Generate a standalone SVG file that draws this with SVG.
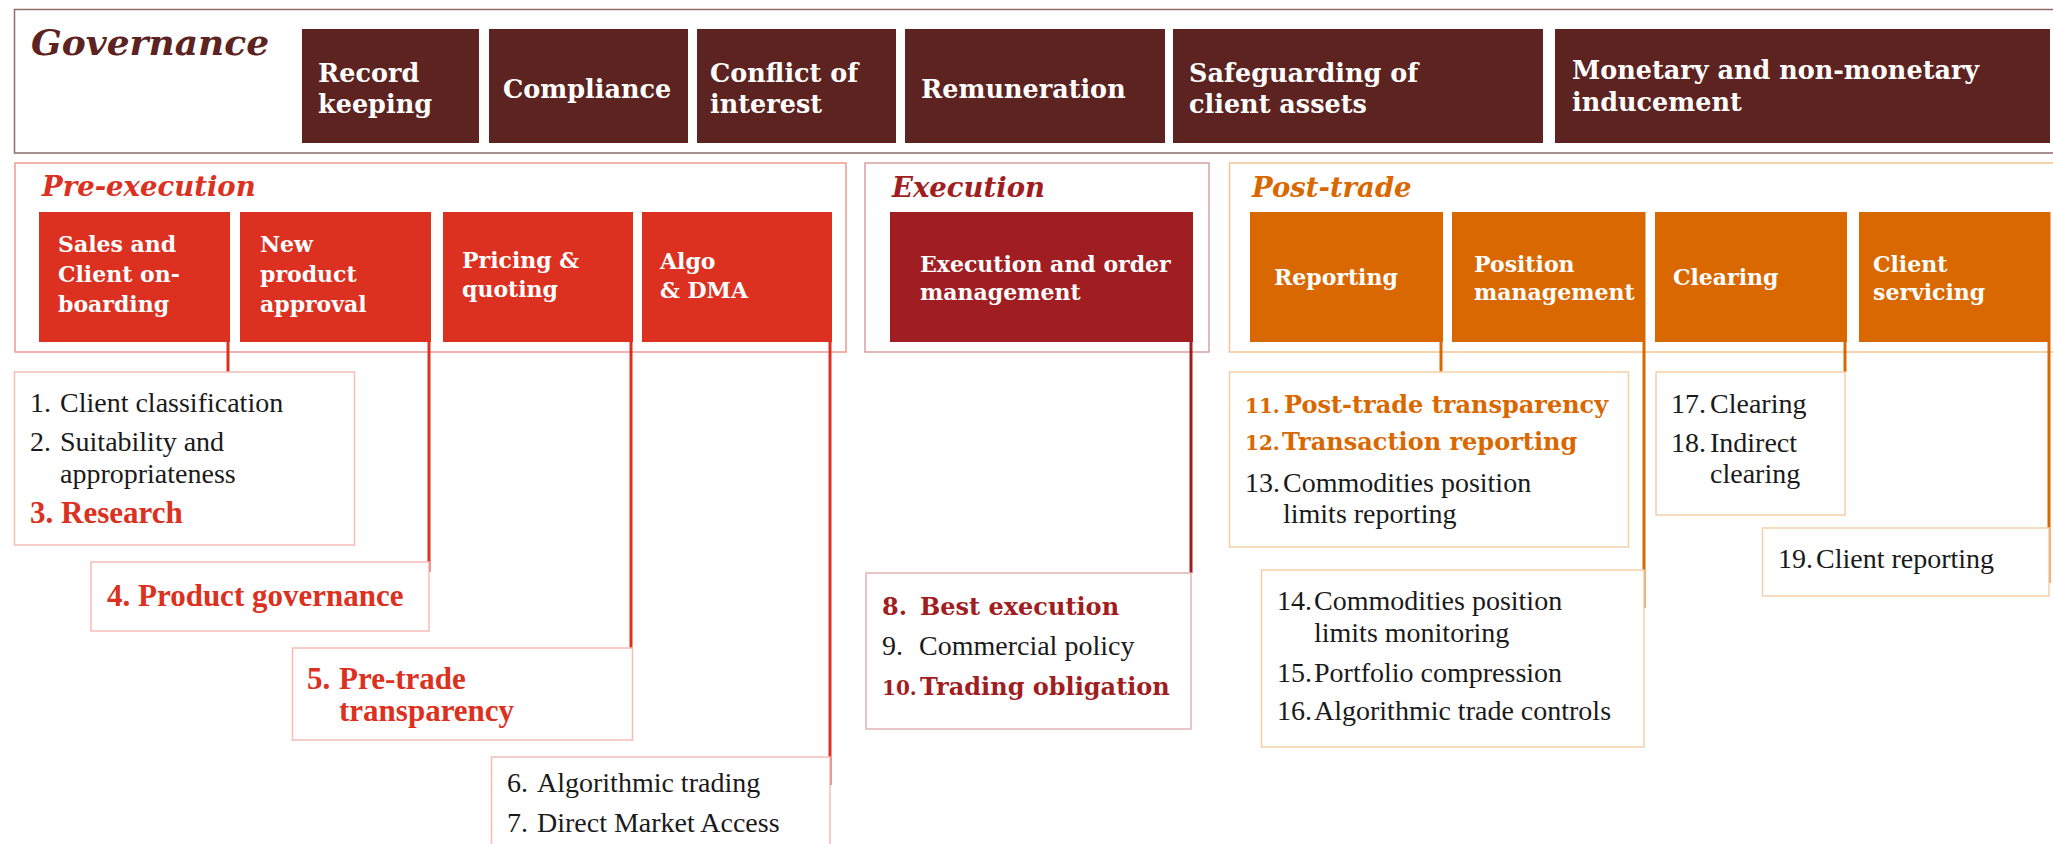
<svg xmlns="http://www.w3.org/2000/svg" width="2053" height="844" viewBox="0 0 2053 844">
  <style>
    .gov { fill: #5C2320; }
    .pre { fill: #DC3021; }
    .exe { fill: #A01E22; }
    .post { fill: #DA6800; }
    .lbl { font-family: "DejaVu Serif", "Liberation Serif", serif; font-weight: bold; fill: #ffffff; }
    .glbl { font-size: 25.5px; }
    .slbl { font-size: 22px; }
    .title { font-family: "DejaVu Serif", "Liberation Serif", serif; font-weight: bold; font-style: italic; font-size: 27.5px; }
    .item { font-family: "Liberation Serif", "Times New Roman", serif; font-size: 28px; fill: #1a1a1a; }
    .itemb { font-family: "Liberation Serif", "Times New Roman", serif; font-size: 31px; font-weight: bold; fill: #DC3021; }
    .hi { font-family: "DejaVu Serif", "Liberation Serif", serif; font-size: 24px; font-weight: bold; }
    .num { font-size: 20px; }
    .frame { fill: none; stroke-width: 1.5; }
    .card { fill: #ffffff; stroke-width: 1.5; }
    .conn line { stroke-width: 3; }
  </style>

  <rect width="2053" height="844" fill="#ffffff"/>

  <!-- Governance band -->
  <g id="governance">
    <rect class="frame" x="14.5" y="9.5" width="2060" height="143.5" stroke="#8E6E6B"/>
    <text x="31" y="55" font-family="'DejaVu Serif', 'Liberation Serif', serif" font-weight="bold" font-style="italic" font-size="36" fill="#5C2320">Governance</text>
  </g>
  <g id="gov-record-keeping">
    <rect class="gov" x="302" y="29" width="177" height="114"/>
    <text class="lbl glbl" x="318" y="82">Record<tspan x="318" y="113">keeping</tspan></text>
  </g>
  <g id="gov-compliance">
    <rect class="gov" x="489" y="29" width="199" height="114"/>
    <text class="lbl glbl" x="503" y="98">Compliance</text>
  </g>
  <g id="gov-conflict">
    <rect class="gov" x="697" y="29" width="199" height="114"/>
    <text class="lbl glbl" x="710" y="82">Conflict of<tspan x="710" y="113">interest</tspan></text>
  </g>
  <g id="gov-remuneration">
    <rect class="gov" x="905" y="29" width="260" height="114"/>
    <text class="lbl glbl" x="921" y="98">Remuneration</text>
  </g>
  <g id="gov-safeguarding">
    <rect class="gov" x="1173" y="29" width="370" height="114"/>
    <text class="lbl glbl" x="1189" y="82">Safeguarding of<tspan x="1189" y="113">client assets</tspan></text>
  </g>
  <g id="gov-inducement">
    <rect class="gov" x="1555" y="29" width="495" height="114"/>
    <text class="lbl glbl" x="1572" y="79">Monetary and non-monetary<tspan x="1572" y="111">inducement</tspan></text>
  </g>

  <!-- Pre-execution section -->
  <g id="pre-execution">
    <rect class="frame" x="15" y="163" width="831" height="189" stroke="#F19A8E"/>
    <text class="title" x="42" y="196" fill="#DC3021">Pre-execution</text>
  </g>
  <g id="sales-onboarding">
    <rect class="pre" x="39" y="212" width="191" height="130"/>
    <text class="lbl slbl" x="58" y="252">Sales and<tspan x="58" y="282">Client on-</tspan><tspan x="58" y="312">boarding</tspan></text>
  </g>
  <g id="new-product">
    <rect class="pre" x="240" y="212" width="191" height="130"/>
    <text class="lbl slbl" x="260" y="252">New<tspan x="260" y="282">product</tspan><tspan x="260" y="312">approval</tspan></text>
  </g>
  <g id="pricing-quoting">
    <rect class="pre" x="443" y="212" width="190" height="130"/>
    <text class="lbl slbl" x="462" y="268">Pricing &amp;<tspan x="462" y="297">quoting</tspan></text>
  </g>
  <g id="algo-dma">
    <rect class="pre" x="642" y="212" width="190" height="130"/>
    <text class="lbl slbl" x="660" y="269">Algo<tspan x="660" y="298">&amp; DMA</tspan></text>
  </g>

  <!-- Execution section -->
  <g id="execution">
    <rect class="frame" x="865" y="163" width="344" height="189" stroke="#D9A0A0"/>
    <text class="title" x="892" y="197" fill="#A01E22">Execution</text>
  </g>
  <g id="execution-order-mgmt">
    <rect class="exe" x="890" y="212" width="303" height="130"/>
    <text class="lbl slbl" x="920" y="272">Execution and order<tspan x="920" y="300">management</tspan></text>
  </g>

  <!-- Post-trade section -->
  <g id="post-trade">
    <rect class="frame" x="1229.5" y="163" width="840" height="189" stroke="#F4C495"/>
    <text class="title" x="1252" y="197" fill="#DA6800">Post-trade</text>
  </g>
  <g id="reporting">
    <rect class="post" x="1250" y="212" width="193" height="130"/>
    <text class="lbl slbl" x="1274" y="285">Reporting</text>
  </g>
  <g id="position-mgmt">
    <rect class="post" x="1452" y="212" width="193" height="130"/>
    <text class="lbl slbl" x="1474" y="272">Position<tspan x="1474" y="300">management</tspan></text>
  </g>
  <g id="clearing">
    <rect class="post" x="1655" y="212" width="192" height="130"/>
    <text class="lbl slbl" x="1673" y="285">Clearing</text>
  </g>
  <g id="client-servicing">
    <rect class="post" x="1859" y="212" width="191" height="130"/>
    <text class="lbl slbl" x="1873" y="272">Client<tspan x="1873" y="300">servicing</tspan></text>
  </g>

  <!-- Connectors from each function down to its list of requirements -->
  <g id="connectors" class="conn">
    <line x1="228" y1="212" x2="228" y2="372" stroke="#DC3021"/>
    <line x1="429" y1="212" x2="429" y2="572" stroke="#DC3021"/>
    <line x1="631" y1="212" x2="631" y2="668" stroke="#DC3021"/>
    <line x1="830" y1="212" x2="830" y2="785" stroke="#DC3021"/>
    <line x1="1191" y1="212" x2="1191" y2="573" stroke="#A01E22"/>
    <line x1="1441" y1="212" x2="1441" y2="372" stroke="#DA6800"/>
    <line x1="1644" y1="212" x2="1644" y2="608" stroke="#DA6800"/>
    <line x1="1845" y1="212" x2="1845" y2="372" stroke="#DA6800"/>
    <line x1="2049" y1="212" x2="2049" y2="583" stroke="#DA6800"/>
  </g>

  <!-- Requirement lists -->
  <g id="list-1-3">
    <rect class="card" x="14.5" y="372" width="340" height="173" stroke="#F6BDB5"/>
    <text class="item" x="30" y="412">1.</text>
    <text class="item" x="60" y="412">Client classification</text>
    <text class="item" x="30" y="451">2.</text>
    <text class="item" x="60" y="451">Suitability and</text>
    <text class="item" x="60" y="483">appropriateness</text>
    <text class="itemb" x="30" y="523">3.</text>
    <text class="itemb" x="61" y="523">Research</text>
  </g>
  <g id="list-4">
    <rect class="card" x="91" y="562" width="338" height="69" stroke="#F6BDB5"/>
    <text class="itemb" x="107" y="606">4.</text>
    <text class="itemb" x="138" y="606">Product governance</text>
  </g>
  <g id="list-5">
    <rect class="card" x="292.5" y="648" width="340" height="92" stroke="#F6BDB5"/>
    <text class="itemb" x="307" y="689" font-size="29">5.</text>
    <text class="itemb" x="339" y="689" font-size="29">Pre-trade</text>
    <text class="itemb" x="339" y="721" font-size="29">transparency</text>
  </g>
  <g id="list-6-7">
    <rect class="card" x="491.5" y="757" width="338.5" height="100" stroke="#F6BDB5"/>
    <text class="item" x="507" y="792">6.</text>
    <text class="item" x="537" y="792">Algorithmic trading</text>
    <text class="item" x="507" y="832">7.</text>
    <text class="item" x="537" y="832">Direct Market Access</text>
  </g>
  <g id="list-8-10">
    <rect class="card" x="866" y="573" width="325" height="156" stroke="#E2B4B4"/>
    <text class="hi" x="882" y="615" fill="#A01E22">8.</text>
    <text class="hi" x="920" y="615" fill="#A01E22">Best execution</text>
    <text class="item" x="882" y="655">9.</text>
    <text class="item" x="919" y="655">Commercial policy</text>
    <text class="hi" x="882" y="695" fill="#A01E22"><tspan class="num">10.</tspan><tspan x="920">Trading obligation</tspan></text>
  </g>
  <g id="list-11-13">
    <rect class="card" x="1229.5" y="372" width="399" height="175" stroke="#F5CFA8"/>
    <text class="hi" x="1245" y="413" fill="#DA6800"><tspan class="num">11.</tspan><tspan x="1284">Post-trade transparency</tspan></text>
    <text class="hi" x="1245" y="450" fill="#DA6800"><tspan class="num">12.</tspan><tspan x="1282">Transaction reporting</tspan></text>
    <text class="item" x="1245" y="492">13.</text>
    <text class="item" x="1283" y="492">Commodities position</text>
    <text class="item" x="1283" y="523">limits reporting</text>
  </g>
  <g id="list-14-16">
    <rect class="card" x="1261.5" y="570" width="382.5" height="177" stroke="#F5CFA8"/>
    <text class="item" x="1277" y="610">14.</text>
    <text class="item" x="1314" y="610">Commodities position</text>
    <text class="item" x="1314" y="642">limits monitoring</text>
    <text class="item" x="1277" y="682">15.</text>
    <text class="item" x="1314" y="682">Portfolio compression</text>
    <text class="item" x="1277" y="720">16.</text>
    <text class="item" x="1314" y="720">Algorithmic trade controls</text>
  </g>
  <g id="list-17-18">
    <rect class="card" x="1656" y="372" width="189" height="143" stroke="#F5CFA8"/>
    <text class="item" x="1671" y="413">17.</text>
    <text class="item" x="1710" y="413">Clearing</text>
    <text class="item" x="1671" y="452">18.</text>
    <text class="item" x="1710" y="452">Indirect</text>
    <text class="item" x="1710" y="483">clearing</text>
  </g>
  <g id="list-19">
    <rect class="card" x="1762.5" y="528" width="286.5" height="68" stroke="#F5CFA8"/>
    <text class="item" x="1778" y="568">19.</text>
    <text class="item" x="1816" y="568">Client reporting</text>
  </g>
</svg>
